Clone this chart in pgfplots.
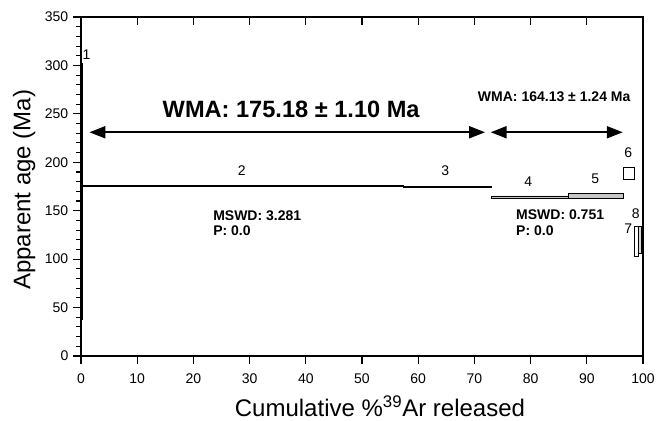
\documentclass[border=0pt]{standalone}
\usepackage{pgfplots}
\pgfplotsset{compat=1.18}
\usepackage{fontspec}
\setmainfont{Liberation Sans}
\usetikzlibrary{arrows.meta}
\begin{document}
\begin{tikzpicture}
\begin{axis}[name=main, scale only axis, width=421.5pt, height=254.25pt,
 xmin=0, xmax=100, ymin=0, ymax=350,
 xtick={0,10,...,100}, ytick={0,50,...,350}, minor y tick num=4,
 xtick pos=bottom, ytick pos=left, tick align=outside,
 major tick length=6pt, minor tick length=3.5pt,
 axis line style={line width=0.9pt},
 every tick/.style={black, line width=0.8pt},
 tick label style={font=\fontsize{10.5}{12}\selectfont},
 xticklabel style={yshift=-4pt},
 /pgf/number format/assume math mode=true,
 xlabel={Cumulative \%\textsuperscript{39}Ar released},
 ylabel={Apparent age (Ma)},
 label style={font=\fontsize{18}{21}\selectfont},
 xlabel style={at={(axis description cs:0.532,-0.177)}, anchor=base},
 ylabel style={at={(axis description cs:-0.101,0.49)}, anchor=center},
 clip=false]
% step 1
\addplot[draw=black, fill=black, line width=0.5pt] coordinates {(0,38) (0.3,38) (0.3,302) (0,302) (0,38)};
% step 2
\addplot[draw=black, fill=black, line width=0.5pt] coordinates {(0.3,175.0) (57.3,175.0) (57.3,176.4) (0.3,176.4) (0.3,175.0)};
% step 3
\addplot[draw=black, fill=black, line width=0.5pt] coordinates {(57.3,174.0) (73.0,174.0) (73.0,175.3) (57.3,175.3) (57.3,174.0)};
% step 4
\addplot[draw=black, fill=gray!45, line width=0.6pt] coordinates {(73.0,162.6) (86.7,162.6) (86.7,165.2) (73.0,165.2) (73.0,162.6)};
% step 5
\addplot[draw=black, fill=gray!45, line width=0.6pt] coordinates {(86.7,162.8) (96.5,162.8) (96.5,168.0) (86.7,168.0) (86.7,162.8)};
% step 6
\addplot[draw=black, fill=white, line width=0.6pt] coordinates {(96.5,182.5) (98.4,182.5) (98.4,194.8) (96.5,194.8) (96.5,182.5)};
% step 7
\addplot[draw=black, fill=white, line width=0.6pt] coordinates {(98.4,102.5) (99.1,102.5) (99.1,134.2) (98.4,134.2) (98.4,102.5)};
% step 8
\addplot[draw=black, fill=gray!30, line width=0.6pt] coordinates {(99.1,106) (99.75,106) (99.75,134) (99.1,134) (99.1,106)};
% arrows
\addplot[line width=1.5pt, {Triangle[length=12pt,width=9pt]}-{Triangle[length=12pt,width=9pt]}] coordinates {(1.5,231) (71.9,231)};
\addplot[line width=1.5pt, {Triangle[length=12pt,width=9pt]}-{Triangle[length=12pt,width=9pt]}] coordinates {(72.9,231) (96.4,231)};
% texts
\node[font=\fontsize{17.7}{20}\selectfont\bfseries] at (axis cs:37.4,255) {WMA: 175.18 ± 1.10 Ma};
\node[font=\fontsize{10.5}{12}\selectfont\bfseries] at (axis cs:84.2,267.5) {WMA: 164.13 ± 1.24 Ma};
\node[font=\fontsize{10.5}{12}\selectfont\bfseries, anchor=west] at (axis cs:22.7,144.5) {MSWD: 3.281};
\node[font=\fontsize{10.5}{12}\selectfont\bfseries, anchor=west] at (axis cs:22.7,129.4) {P: 0.0};
\node[font=\fontsize{10.5}{12}\selectfont\bfseries, anchor=west] at (axis cs:76.6,145.5) {MSWD: 0.751};
\node[font=\fontsize{10.5}{12}\selectfont\bfseries, anchor=west] at (axis cs:76.6,129.4) {P: 0.0};
\node[font=\fontsize{10.5}{12}\selectfont] at (axis cs:1.0,311) {1};
\node[font=\fontsize{10.5}{12}\selectfont] at (axis cs:28.6,191.3) {2};
\node[font=\fontsize{10.5}{12}\selectfont] at (axis cs:64.8,191.3) {3};
\node[font=\fontsize{10.5}{12}\selectfont] at (axis cs:79.6,180) {4};
\node[font=\fontsize{10.5}{12}\selectfont] at (axis cs:91.5,183.5) {5};
\node[font=\fontsize{10.5}{12}\selectfont] at (axis cs:97.4,209.9) {6};
\node[font=\fontsize{10.5}{12}\selectfont] at (axis cs:97.4,131.7) {7};
\node[font=\fontsize{10.5}{12}\selectfont] at (axis cs:98.7,146.6) {8};
\end{axis}
\begin{axis}[scale only axis, width=421.5pt, height=254.25pt,
 xmin=0, xmax=100, ymin=0, ymax=350,
 axis x line*=top, axis y line=none,
 xtick={0,10,...,100}, xticklabels={}, ytick=\empty,
 tick align=inside, major tick length=6pt,
 axis line style={line width=0.9pt, -},
 every tick/.style={black, line width=0.8pt}]
\addplot[draw=none] coordinates {(0,0) (100,350)};
\end{axis}
\pgfresetboundingbox
\useasboundingbox ([xshift=-60.75pt,yshift=-48.75pt]main.south west) rectangle ([xshift=16.5pt,yshift=12.75pt]main.north east);
\end{tikzpicture}
\end{document}
